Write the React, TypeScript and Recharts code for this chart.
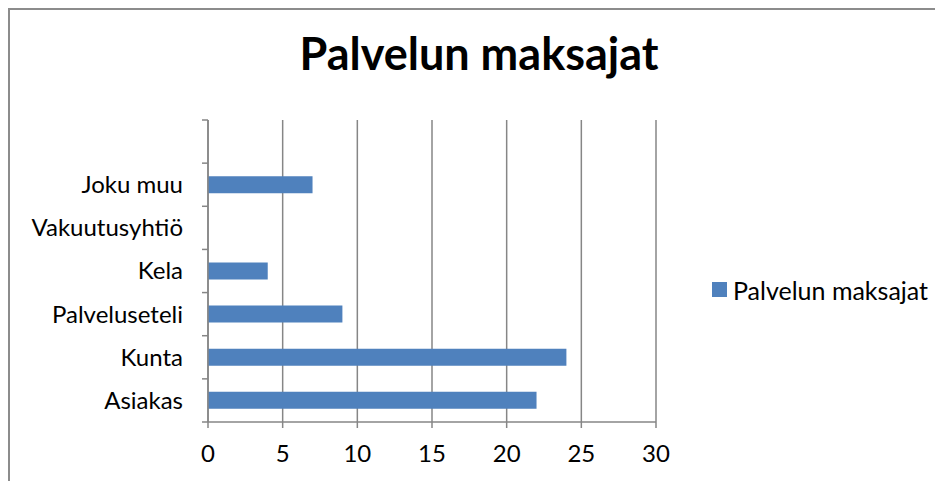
import { BarChart, Bar, XAxis, YAxis, CartesianGrid } from 'recharts';

const categories = ['', 'Joku muu', 'Vakuutusyhtiö', 'Kela', 'Palveluseteli', 'Kunta', 'Asiakas'];
const maksajat = [null, 7, 0, 4, 9, 24, 22];
const xTicks = [0, 5, 10, 15, 20, 25, 30];

const data = categories.map((name, i) => ({ name, value: maksajat[i] }));

const GRAY = '#868686';
const FONT = 'Lato, Carlito, Calibri, sans-serif';
const BAND = 302 / categories.length;

function CategoryTick(props: any) {
  const { x, y, payload, index } = props;
  const last = index === categories.length - 1;
  return (
    <g>
      <line x1={x + 19} x2={x + 25} y1={y - BAND / 2} y2={y - BAND / 2} stroke={GRAY} strokeWidth={1.5} />
      {last && (
        <line x1={x + 19} x2={x + 25} y1={y + BAND / 2} y2={y + BAND / 2} stroke={GRAY} strokeWidth={1.5} />
      )}
      <text x={x} y={y} dy="0.35em" textAnchor="end" fill="#000" fontSize={24} fontFamily={FONT}>
        {payload.value}
      </text>
    </g>
  );
}

export default function App() {
  return (
    <div style={{ position: 'relative', width: 935, height: 473, background: '#fff' }}>
      <div
        style={{
          position: 'absolute',
          left: 0,
          top: 0,
          right: 0,
          bottom: 0,
          borderTop: '2px solid #8c8c8c',
          borderLeft: '2px solid #8c8c8c',
          pointerEvents: 'none',
        }}
      />
      <div
        style={{
          position: 'absolute',
          left: 0,
          width: 942,
          top: 21,
          textAlign: 'center',
          fontFamily: FONT,
          fontWeight: 700,
          fontSize: 45,
          lineHeight: '48px',
          color: '#000',
        }}
      >
        Palvelun maksajat
      </div>
      <div
        style={{
          position: 'absolute',
          left: 704,
          top: 274,
          height: 15,
          display: 'flex',
          alignItems: 'center',
          fontFamily: FONT,
          fontSize: 25,
          color: '#000',
          whiteSpace: 'nowrap',
        }}
      >
        <span style={{ width: 15, height: 15, background: '#4f81bd', marginRight: 6, display: 'inline-block' }} />
        Palvelun maksajat
      </div>
      <BarChart
        width={935}
        height={473}
        data={data}
        layout="vertical"
        margin={{ top: 112, right: 287, bottom: 29, left: 8 }}
      >
        <CartesianGrid horizontal={false} stroke={GRAY} strokeWidth={1.5} />
        <XAxis
          type="number"
          domain={[0, 30]}
          ticks={xTicks}
          height={30}
          stroke={GRAY}
          strokeWidth={1.5}
          tickSize={6}
          tickMargin={17}
          tick={{ fill: '#000', fontSize: 24, fontFamily: FONT }}
        />
        <YAxis
          type="category"
          dataKey="name"
          width={192}
          stroke={GRAY}
          strokeWidth={1.5}
          tickLine={false}
          tickSize={6}
          tickMargin={19}
          interval={0}
          tick={<CategoryTick />}
        />
        <Bar dataKey="value" fill="#4f81bd" barSize={17} isAnimationActive={false} />
      </BarChart>
    </div>
  );
}
